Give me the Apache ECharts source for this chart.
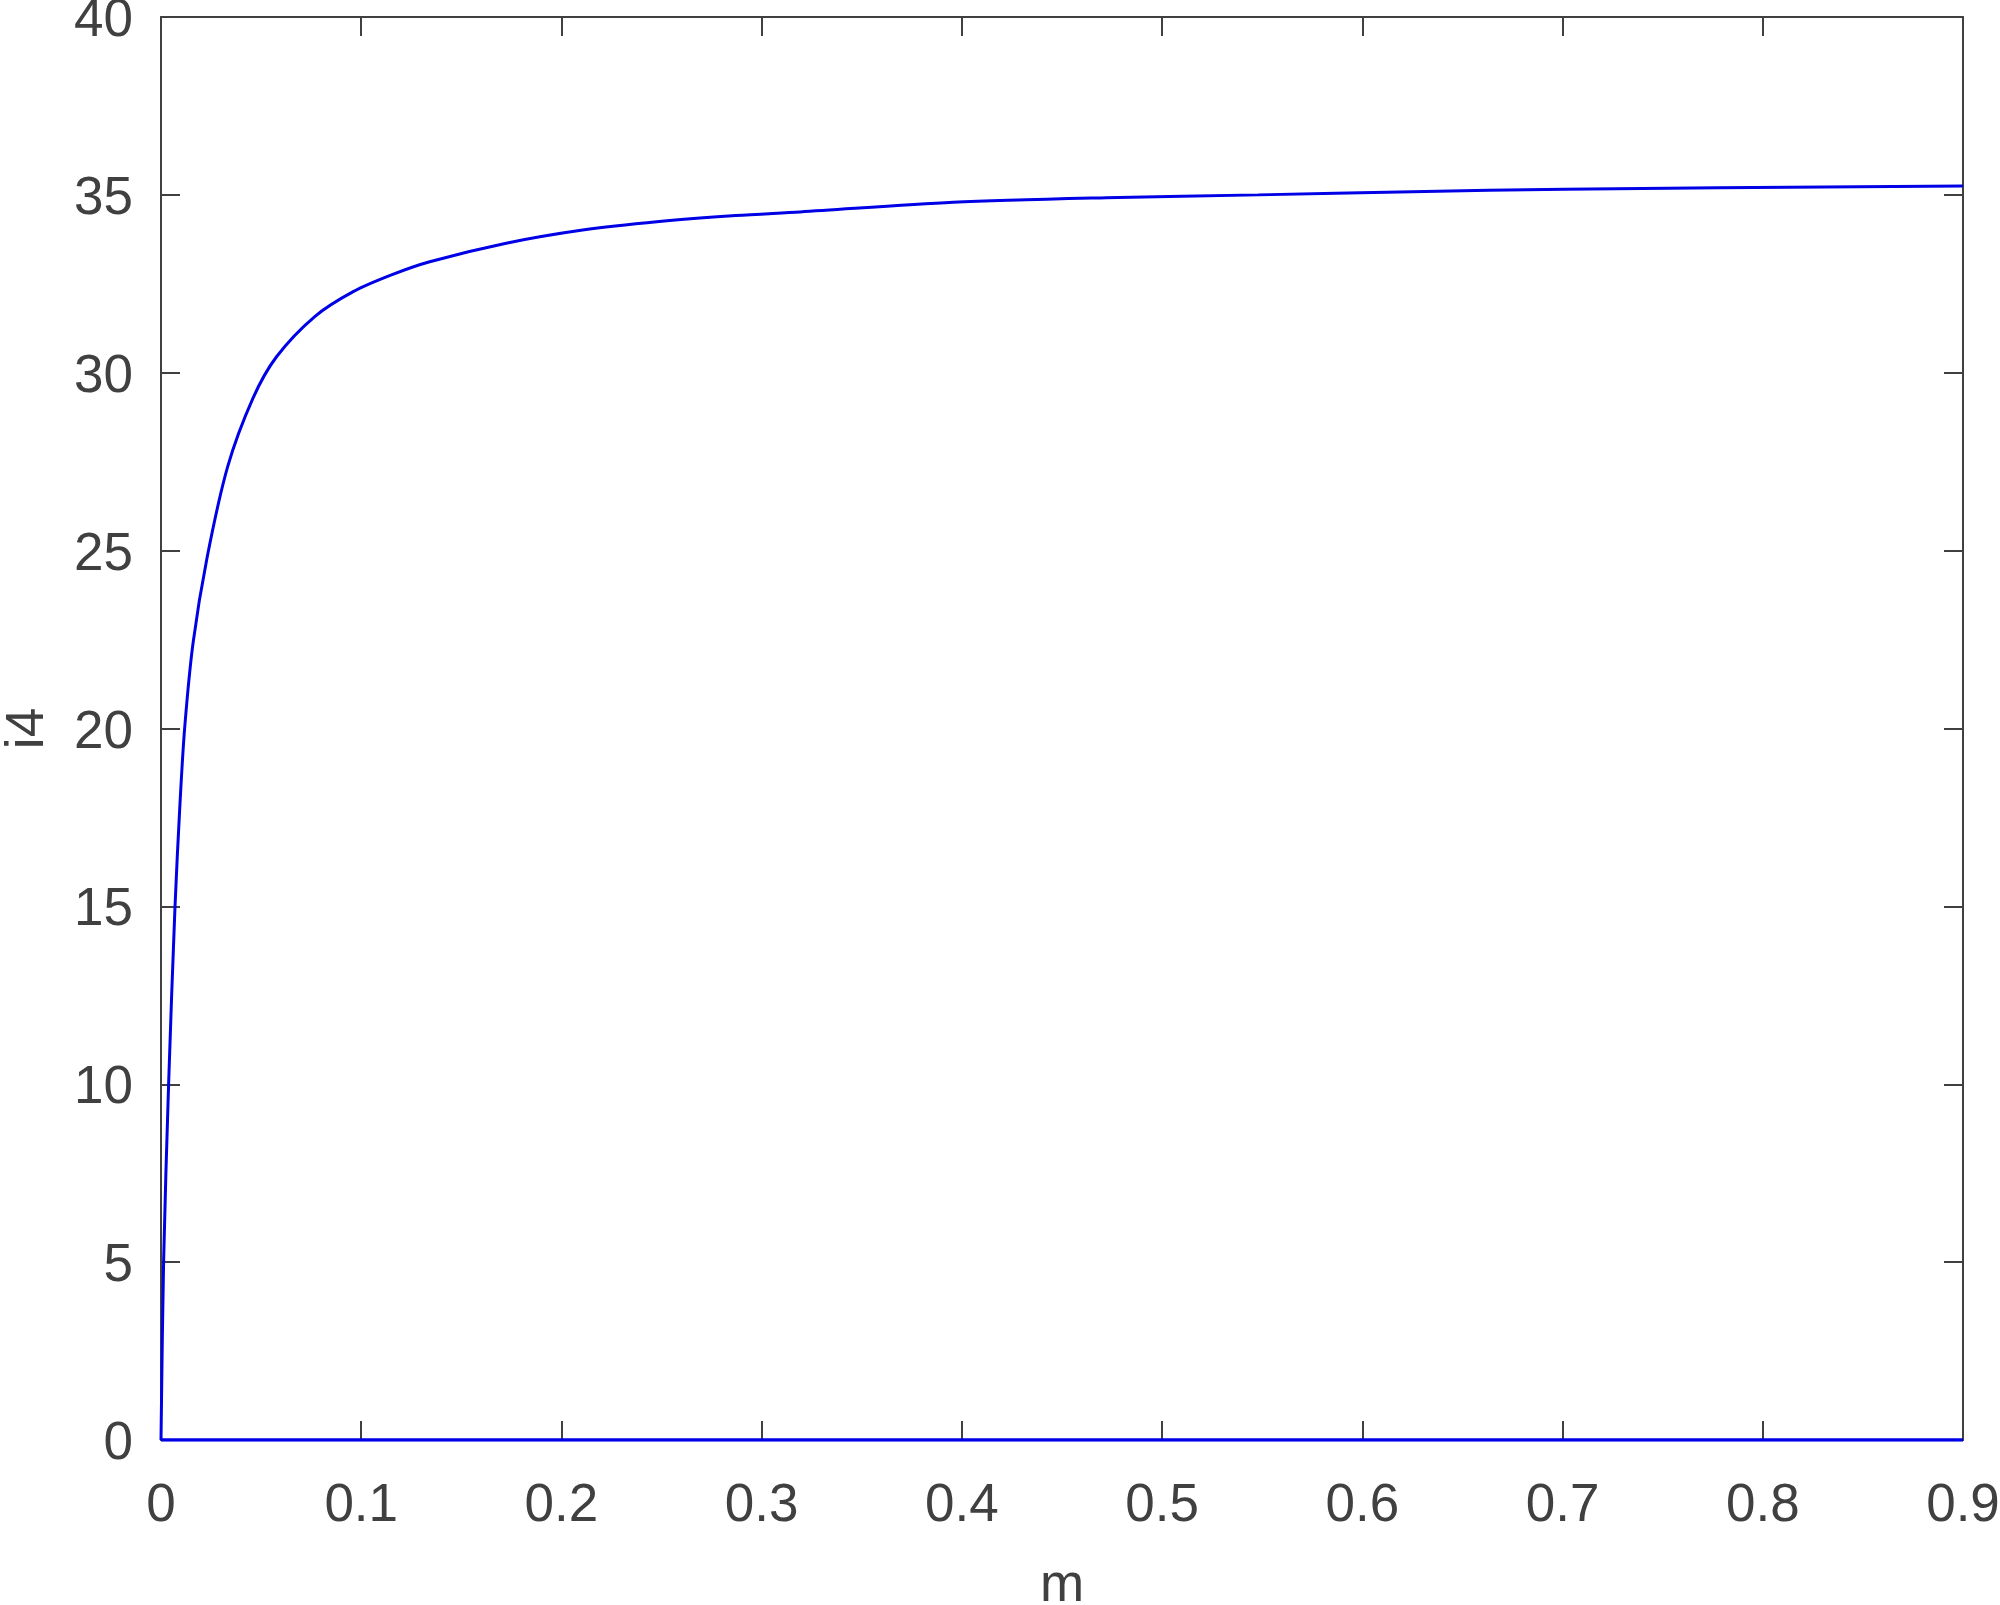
<!DOCTYPE html>
<html>
<head>
<meta charset="utf-8">
<script src="https://cdn.jsdelivr.net/npm/echarts@6/dist/echarts.min.js"></script>
<style>
html,body{margin:0;padding:0;background:#fff;}
#chart{width:2000px;height:1605px;}
</style>
</head>
<body>
<div id="chart"></div>
<script>
// curve branch
var mValues = [0, 0.0013, 0.0038, 0.0070, 0.0094, 0.0118, 0.016, 0.0230, 0.0333, 0.0459, 0.0577, 0.0768, 0.096, 0.1151, 0.1342, 0.1724, 0.2106, 0.2488, 0.2871, 0.3192, 0.3956, 0.472, 0.548, 0.625, 0.701, 0.778, 0.9];
var i4Values = [0, 5, 10, 15, 17.8, 20, 22.4, 24.8, 27.36, 29.28, 30.45, 31.58, 32.28, 32.75, 33.12, 33.64, 34.01, 34.25, 34.42, 34.52, 34.79, 34.92, 35.0, 35.09, 35.16, 35.20, 35.25];
// zero branch
var baseM = [0, 0.9];
var baseI4 = [0, 0];
var xTicks = [0, 0.1, 0.2, 0.3, 0.4, 0.5, 0.6, 0.7, 0.8, 0.9];
var yTicks = [0, 5, 10, 15, 20, 25, 30, 35, 40];

var curve = mValues.map(function (m, k) { return [m, i4Values[k]]; });
var base = baseM.map(function (m, k) { return [m, baseI4[k]]; });

var axisColor = '#404040';
var font = '"Liberation Sans", Arial, Helvetica, sans-serif';

function mkX(show, pos) {
  return {
    type: 'value', position: pos, min: xTicks[0], max: xTicks[xTicks.length - 1], interval: 0.1,
    name: show ? 'm' : '', nameLocation: 'middle', nameGap: 120,
    nameTextStyle: { color: axisColor, fontSize: 53, fontFamily: font },
    axisLine: { show: true, onZero: false, lineStyle: { color: axisColor, width: 2 } },
    axisTick: { show: true, inside: true, length: 19, lineStyle: { color: axisColor, width: 2 } },
    axisLabel: { show: show, color: axisColor, fontSize: 53, fontFamily: font, margin: 40 },
    splitLine: { show: false }
  };
}
function mkY(show, pos) {
  return {
    type: 'value', position: pos, min: yTicks[0], max: yTicks[yTicks.length - 1], interval: 5,
    name: show ? 'i4' : '', nameLocation: 'middle', nameGap: 106,
    nameTextStyle: { color: axisColor, fontSize: 53, fontFamily: font },
    axisLine: { show: true, onZero: false, lineStyle: { color: axisColor, width: 2 } },
    axisTick: { show: true, inside: true, length: 19, lineStyle: { color: axisColor, width: 2 } },
    axisLabel: {
      show: show, color: axisColor, fontSize: 53, fontFamily: font, margin: 28,
      formatter: function (v) { return '{a|' + v + '}'; },
      rich: { a: { color: axisColor, fontSize: 53, fontFamily: font, padding: [9, 0, 0, 0] } }
    },
    splitLine: { show: false }
  };
}

var chart = echarts.init(document.getElementById('chart'), null, { renderer: 'canvas' });
chart.setOption({
  animation: false,
  backgroundColor: '#ffffff',
  grid: { left: 161, right: 37, top: 17, bottom: 165, containLabel: false, outerBoundsMode: 'none' },
  xAxis: [mkX(true, 'bottom'), mkX(false, 'top')],
  yAxis: [mkY(true, 'left'), mkY(false, 'right')],
  series: [
    {
      type: 'line', data: curve, xAxisIndex: 0, yAxisIndex: 0,
      showSymbol: false, smooth: 0.3,
      lineStyle: { color: '#0000e6', width: 3 }, z: 5
    },
    {
      type: 'line', data: base, xAxisIndex: 0, yAxisIndex: 0,
      showSymbol: false,
      lineStyle: { color: '#0000e6', width: 3.5 }, z: 5
    }
  ]
});
</script>
</body>
</html>
